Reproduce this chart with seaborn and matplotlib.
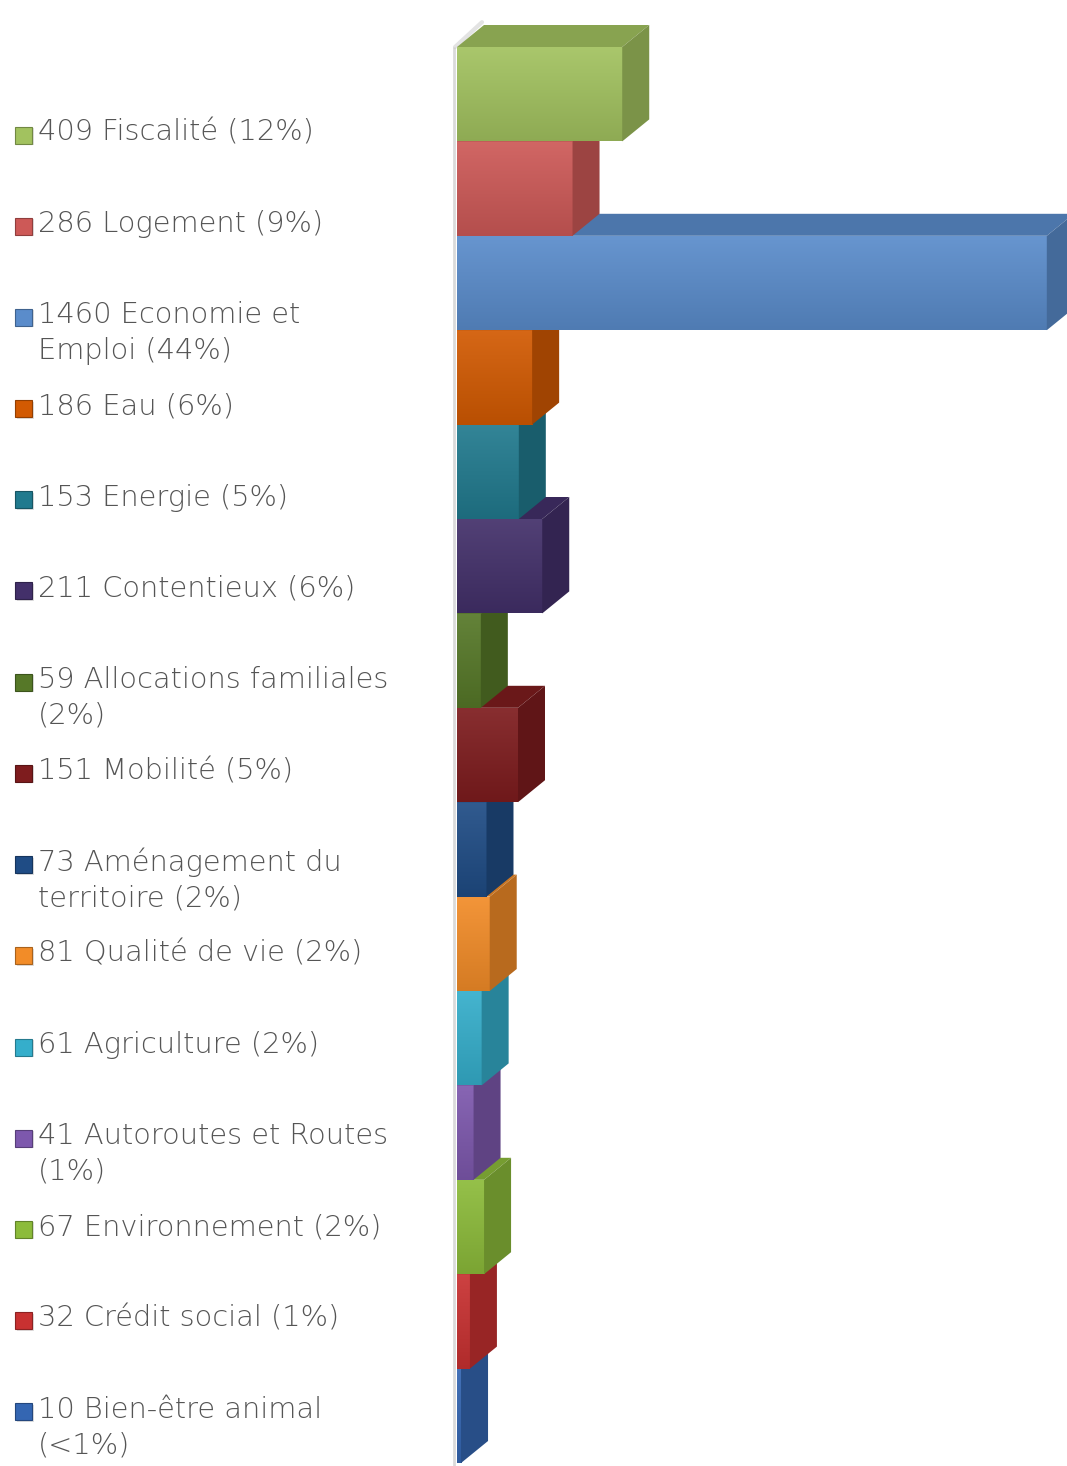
import numpy as np
import matplotlib
matplotlib.use("Agg")
import matplotlib.pyplot as plt
import matplotlib.colors as mcolors
from matplotlib.patches import Polygon, Rectangle
import seaborn as sns

# Requests per theme
themes = ["Fiscalité", "Logement", "Economie et\nEmploi", "Eau", "Energie",
          "Contentieux", "Allocations familiales\n", "Mobilité",
          "Aménagement du\nterritoire", "Qualité de vie", "Agriculture",
          "Autoroutes et Routes\n", "Environnement", "Crédit social",
          "Bien-être animal\n"]
counts = [409, 286, 1460, 186, 153, 211, 59, 151, 73, 81, 61, 41, 67, 32, 10]
shares = ["12%", "9%", "44%", "6%", "5%", "6%", "2%", "5%", "2%", "2%",
          "2%", "1%", "2%", "1%", "<1%"]
bar_colors = ["#A2C25F", "#CD5957", "#5A8CCB", "#D25A02", "#217A8E",
              "#43306A", "#567828", "#7E1C1E", "#1F4C85", "#F28C28",
              "#35AECB", "#7D58AD", "#8CBB3A", "#C83131", "#3466B2"]

W, H = 1067, 1466
sns.set_theme(style="white")
plt.rcParams["font.family"] = ["DejaVu Sans"]

fig = plt.figure(figsize=(W / 100, H / 100), dpi=100)
fig.patch.set_facecolor("white")

ax_left, ax_width = 457, 610
x_max = 1510
px_per_unit = ax_width / x_max
slot_px = 94.4
first_top_px = 47
ax = fig.add_axes([ax_left / W, 0, ax_width / W, 1])

plain = [t.replace("\n", " ").strip() for t in themes]
sns.barplot(x=counts, y=plain, hue=plain, palette=bar_colors, orient="h",
            width=1.0, saturation=1, legend=False, linewidth=0, ax=ax)

y_top = -0.5 - first_top_px / slot_px
y_bot = -0.5 + (H - first_top_px) / slot_px
ax.set_xlim(0, x_max)
ax.set_ylim(y_bot, y_top)
ax.axis("off")

depth_x = 27 / px_per_unit
depth_y = 22 / slot_px


def shade(c, f):
    r = np.array(mcolors.to_rgb(c))
    return tuple(np.clip(r * f, 0, 1))


def tint(c, f):
    r = np.array(mcolors.to_rgb(c))
    return tuple(r + (1 - r) * f)


for patch in list(ax.patches):
    w = patch.get_width()
    yt = patch.get_y()
    yb = yt + patch.get_height()
    i = int(round(yt + 0.5))
    col = bar_colors[i]
    base = 10 + (len(counts) - i) * 4
    patch.set_zorder(base)
    patch.set_edgecolor("none")

    # vertical shading on the front face
    grad = np.linspace(0, 1, 64)[:, None]
    top_c = np.array(tint(col, 0.08))
    bot_c = np.array(shade(col, 0.88))
    img = (top_c[None, None, :] * (1 - grad[..., None])
           + bot_c[None, None, :] * grad[..., None])
    img = np.repeat(img, 2, axis=1)
    im = ax.imshow(img, extent=(0, w, yb, yt), origin="upper",
                   aspect="auto", zorder=base + 0.5, interpolation="bilinear")
    im.set_clip_path(patch)

    top_face = Polygon([(0, yt), (w, yt), (w + depth_x, yt - depth_y),
                        (depth_x, yt - depth_y)], closed=True,
                       facecolor=shade(col, 0.84), edgecolor="none",
                       zorder=base + 1)
    side_face = Polygon([(w, yt), (w, yb), (w + depth_x, yb - depth_y),
                         (w + depth_x, yt - depth_y)], closed=True,
                        facecolor=shade(col, 0.76), edgecolor="none",
                        zorder=base + 1)
    ax.add_patch(top_face)
    ax.add_patch(side_face)

ax.set_xlim(0, x_max)
ax.set_ylim(y_bot, y_top)

# back wall edge
ax.plot([-3 / px_per_unit, -3 / px_per_unit], [-0.5, y_bot], color="#DADADA",
        lw=2, zorder=2, clip_on=False, solid_capstyle="butt")
ax.plot([-2 / px_per_unit, depth_x - 2 / px_per_unit],
        [-0.5, -0.5 - depth_y - 0.03], color="#C8C8C8",
        lw=3, alpha=0.5, zorder=2, clip_on=False)

# legend on the left
row0, row_step, line_step = 132, 91.2, 35.5
for i, (c, t, s) in enumerate(zip(counts, themes, shares)):
    label = f"{c} {t} ({s})".replace("\n ", "\n")
    cy = row0 + row_step * i
    fig.add_artist(Rectangle(((15 + 1.5) / W, 1 - (cy + 3 + 8.5 + 1.5) / H),
                             17 / W, 17 / H, transform=fig.transFigure,
                             facecolor="#D0D0D0", edgecolor="none", alpha=0.7))
    fig.add_artist(Rectangle((15 / W, 1 - (cy + 3 + 8.5) / H), 17 / W, 17 / H,
                             transform=fig.transFigure,
                             facecolor=bar_colors[i],
                             edgecolor=shade(bar_colors[i], 0.7),
                             linewidth=0.8))
    for k, line in enumerate(label.split("\n")):
        fig.text(38 / W, 1 - (cy + 1 + line_step * k) / H, line, fontsize=20.8,
                 fontweight="light", color="#555555", va="center", ha="left")

fig.savefig("out.png", dpi=100, facecolor="white")
